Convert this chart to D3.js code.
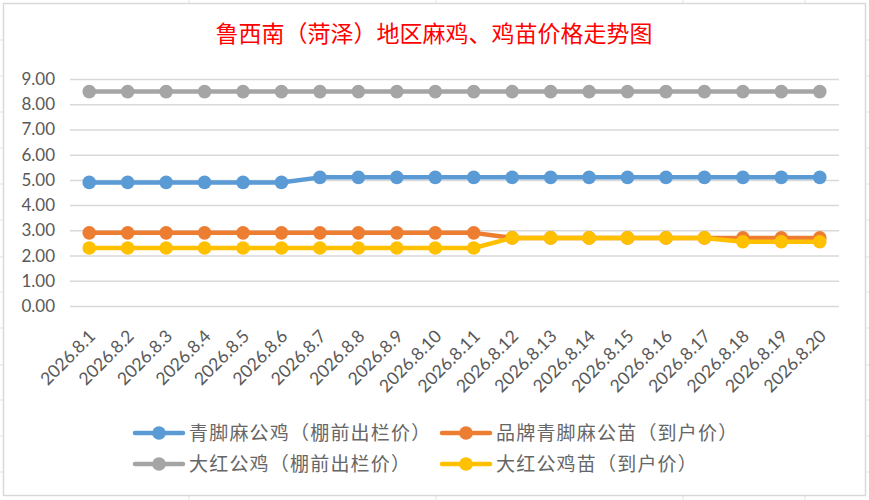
<!DOCTYPE html>
<html>
<head>
<meta charset="utf-8">
<script src="https://cdn.jsdelivr.net/npm/d3@7"></script>
<style>
  html, body { margin: 0; padding: 0; background: #fff; }
  svg { display: block; }
</style>
</head>
<body>
<div id="chart"></div>
<script>
// chart data
const dates = ['2026.8.1', '2026.8.2', '2026.8.3', '2026.8.4', '2026.8.5', '2026.8.6', '2026.8.7',
    '2026.8.8', '2026.8.9', '2026.8.10', '2026.8.11', '2026.8.12', '2026.8.13', '2026.8.14',
    '2026.8.15', '2026.8.16', '2026.8.17', '2026.8.18', '2026.8.19', '2026.8.20'];
const seriesNames = ['青脚麻公鸡（棚前出栏价）', '品牌青脚麻公苗（到户价）', '大红公鸡（棚前出栏价）', '大红公鸡苗（到户价）'];
const qingjiaoRooster = [4.9, 4.9, 4.9, 4.9, 4.9, 4.9, 5.1, 5.1, 5.1, 5.1, 5.1, 5.1, 5.1, 5.1, 5.1, 5.1, 5.1, 5.1, 5.1, 5.1];
const qingjiaoChick = [2.9, 2.9, 2.9, 2.9, 2.9, 2.9, 2.9, 2.9, 2.9, 2.9, 2.9, 2.7, 2.7, 2.7, 2.7, 2.7, 2.7, 2.7, 2.7, 2.7];
const dahongRooster = [8.5, 8.5, 8.5, 8.5, 8.5, 8.5, 8.5, 8.5, 8.5, 8.5, 8.5, 8.5, 8.5, 8.5, 8.5, 8.5, 8.5, 8.5, 8.5, 8.5];
const dahongChick = [2.3, 2.3, 2.3, 2.3, 2.3, 2.3, 2.3, 2.3, 2.3, 2.3, 2.3, 2.7, 2.7, 2.7, 2.7, 2.7, 2.7, 2.55, 2.55, 2.55];
const yTicks = [0, 1, 2, 3, 4, 5, 6, 7, 8, 9];
const colors = ['#5b9bd5', '#ed7d31', '#a5a5a5', '#ffc000'];

const width = 869, height = 500;
const plot = { left: 70, right: 839, top: 79, bottom: 306 };
const tickFont = 'Lato, "Liberation Sans", sans-serif';
const cjkFont = '"Noto Sans CJK SC", "Noto Sans", sans-serif';

const svg = d3.select('#chart').append('svg')
    .attr('width', width)
    .attr('height', height);

// spreadsheet cells behind the chart
const sheet = svg.append('g').attr('stroke', '#e3e3e3').attr('stroke-width', 1);
[40, 76, 112, 148, 184, 220, 257, 292, 328, 365, 400, 436, 472].forEach(y => {
    sheet.append('line').attr('x1', 0).attr('x2', width).attr('y1', y).attr('y2', y);
});
[189, 436, 683, 805].forEach(x => {
    sheet.append('line').attr('x1', x).attr('x2', x).attr('y1', 0).attr('y2', height);
});

// chart box
svg.append('rect')
    .attr('x', 3.5).attr('y', 3.5)
    .attr('width', 862).attr('height', 492)
    .attr('fill', '#fff')
    .attr('stroke', '#d9d9d9')
    .attr('stroke-width', 1.5);

// title
svg.append('text')
    .attr('x', 434)
    .attr('y', 42)
    .attr('text-anchor', 'middle')
    .attr('fill', '#ff0000')
    .style('font-family', '"Noto Sans CJK SC", sans-serif')
    .style('font-size', '23px')
    .text('鲁西南（菏泽）地区麻鸡、鸡苗价格走势图');

const x = d3.scaleBand()
    .domain(dates)
    .range([plot.left, plot.right]);

const y = d3.scaleLinear()
    .domain([0, 9])
    .range([plot.bottom, plot.top]);

// y axis with gridlines
const yAxis = svg.append('g')
    .attr('transform', `translate(${plot.left},0)`)
    .call(d3.axisLeft(y)
        .tickValues(yTicks)
        .tickSize(-(plot.right - plot.left))
        .tickPadding(15)
        .tickFormat(d3.format('.2f')));
yAxis.select('.domain').remove();
yAxis.selectAll('.tick line')
    .attr('stroke', '#d9d9d9')
    .attr('stroke-width', 1.5);
yAxis.selectAll('.tick text')
    .attr('fill', '#595959')
    .style('font-family', tickFont)
    .style('font-size', '17px');

// x axis labels, rotated
const xAxis = svg.append('g')
    .attr('transform', `translate(0,${plot.bottom})`)
    .call(d3.axisBottom(x).tickSize(0).tickPadding(0));
xAxis.select('.domain').remove();
xAxis.selectAll('.tick text')
    .attr('fill', '#595959')
    .attr('text-anchor', 'end')
    .attr('dy', '0.35em')
    .attr('transform', 'translate(3,27) rotate(-45)')
    .style('font-family', tickFont)
    .style('font-size', '17.5px');

const allSeries = [qingjiaoRooster, qingjiaoChick, dahongRooster, dahongChick];
const line = d3.line()
    .x((d, i) => x(dates[i]) + x.bandwidth() / 2)
    .y(d => y(d));

allSeries.forEach((values, s) => {
    const g = svg.append('g');
    g.append('path')
        .datum(values)
        .attr('fill', 'none')
        .attr('stroke', colors[s])
        .attr('stroke-width', 4.5)
        .attr('stroke-linejoin', 'round')
        .attr('d', line);
    g.selectAll('circle')
        .data(values)
        .join('circle')
        .attr('cx', (d, i) => x(dates[i]) + x.bandwidth() / 2)
        .attr('cy', d => y(d))
        .attr('r', 6.8)
        .attr('fill', colors[s]);
});

// legend, two columns by two rows
const legendPos = [
    { x: 135, y: 433 },
    { x: 442, y: 433 },
    { x: 135, y: 464 },
    { x: 442, y: 464 }
];
seriesNames.forEach((name, s) => {
    const p = legendPos[s];
    const g = svg.append('g').attr('transform', `translate(${p.x},${p.y})`);
    g.append('line')
        .attr('x1', 0).attr('x2', 48)
        .attr('stroke', colors[s])
        .attr('stroke-width', 4.5)
        .attr('stroke-linecap', 'round');
    g.append('circle')
        .attr('cx', 24)
        .attr('r', 6.8)
        .attr('fill', colors[s]);
    g.append('text')
        .attr('x', 54)
        .attr('dy', '0.36em')
        .attr('fill', '#666666')
        .style('font-family', cjkFont)
        .style('font-size', '19px')
        .style('letter-spacing', '1.2px')
        .text(name);
});
</script>
</body>
</html>
